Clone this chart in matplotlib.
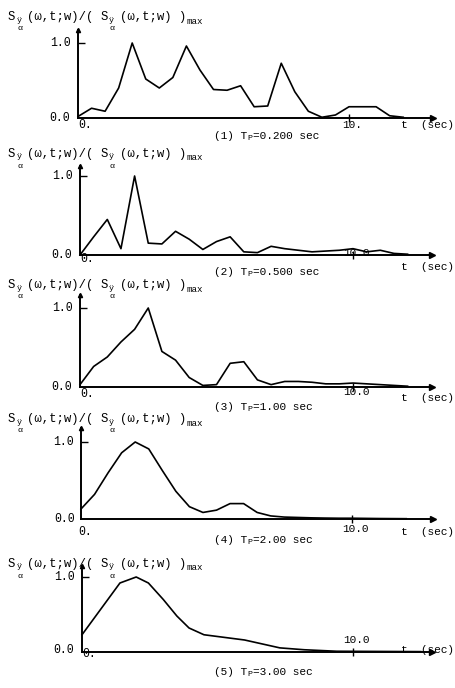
import matplotlib
matplotlib.use("Agg")
import matplotlib.pyplot as plt

plt.rcParams['font.family'] = ['Liberation Mono', 'DejaVu Sans Mono']

W, H = 455, 688

# ---------------- data ----------------
t_step = [0.0, 0.5, 1.0, 1.5, 2.0, 2.5, 3.0, 3.5, 4.0, 4.5, 5.0, 5.5, 6.0,
          6.5, 7.0, 7.5, 8.0, 8.5, 9.0, 9.5, 10.0, 10.5, 11.0, 11.5, 12.0]

s1 = [0.02, 0.13, 0.09, 0.40, 1.00, 0.52, 0.40, 0.54, 0.96, 0.64, 0.38, 0.37, 0.43,
      0.15, 0.16, 0.73, 0.35, 0.09, 0.01, 0.04, 0.15, 0.15, 0.15, 0.03, 0.01]
s2 = [0.00, 0.23, 0.45, 0.08, 1.00, 0.15, 0.14, 0.30, 0.20, 0.07, 0.17, 0.23, 0.04,
      0.03, 0.11, 0.08, 0.06, 0.04, 0.05, 0.06, 0.08, 0.04, 0.06, 0.02, 0.01]
s3 = [0.03, 0.26, 0.38, 0.57, 0.73, 1.00, 0.45, 0.34, 0.12, 0.02, 0.03, 0.30, 0.32,
      0.09, 0.03, 0.07, 0.07, 0.06, 0.04, 0.04, 0.05, 0.04, 0.03, 0.02, 0.01]
s4 = [0.13, 0.32, 0.60, 0.86, 1.00, 0.91, 0.63, 0.36, 0.16, 0.085, 0.115, 0.20, 0.20,
      0.085, 0.04, 0.025, 0.02, 0.015, 0.012, 0.01, 0.01, 0.008, 0.006, 0.005, 0.004]
t5 = [0.0, 1.4, 2.0, 2.45, 3.0, 3.5, 3.95, 4.5, 6.0, 7.3, 8.2, 9.4, 12.5]
s5 = [0.23, 0.92, 1.00, 0.92, 0.70, 0.48, 0.32, 0.23, 0.16, 0.055, 0.03, 0.01, 0.005]

series_t = [t_step, t_step, t_step, t_step, t5]
series_v = [s1, s2, s3, s4, s5]
cap_num = ["(1)", "(2)", "(3)", "(4)", "(5)"]
cap_val = ["=0.200 sec", "=0.500 sec", "=1.00 sec", "=2.00 sec", "=3.00 sec"]
x10_labels = ["10.", "10.0", "10.0", "10.0", "10.0"]

# ---------------- layout (pixels) ----------------
# origin x, x at t=10, baseline y, y at 1.0, y of arrow top, x of arrow end
layout = [
    (78, 349, 118, 43, 30, 433),
    (80, 353, 255, 176, 166, 432),
    (80, 353, 387, 308, 295, 432),
    (81, 352, 519, 442, 428, 433),
    (82, 353, 652, 577, 566, 432),
]
ylab_y = [17, 154, 285, 419, 564]
x10_dy = [7, -2, 5, 10, -12]
zero_dy = [7, 4, 7, 13, 2]
tsec_y = [125, 267, 398, 532, 650]
cap_y = [136, 272, 407, 540, 672]

fig = plt.figure(figsize=(W / 100, H / 100), dpi=100)
fig.patch.set_facecolor('white')


def ptext(x, y, s, fs, **kw):
    fig.text(x / W, 1 - y / H, s, fontsize=fs, va='center', ha='left', **kw)


def cw(fs):
    return 0.6 * fs * 100 / 72.0


def ylabel(y):
    fm, fsub = 8.8, 6.0
    x = 8
    ptext(x, y, "S", fm)
    x += cw(fm) + 1
    ptext(x, y + 3, "\u00ff", fsub)
    ptext(x + 1, y + 12, "\u03b1", fsub)
    x += cw(fsub) + 6
    s = "(\u03c9,t;w)/("
    ptext(x, y, s, fm)
    x += cw(fm) * (len(s) + 1)
    ptext(x, y, "S", fm)
    x += cw(fm) + 1
    ptext(x, y + 3, "\u00ff", fsub)
    ptext(x + 1, y + 12, "\u03b1", fsub)
    x += cw(fsub) + 6
    s = "(\u03c9,t;w) )"
    ptext(x, y, s, fm)
    x += cw(fm) * len(s) + 1
    ptext(x, y + 4, "max", 6.6)


def caption(y, num, val):
    fs, fsub = 8, 6
    x = 214
    s = num + " T"
    ptext(x, y, s, fs)
    x += cw(fs) * len(s) + 0.5
    ptext(x, y + 3, "P", fsub)
    x += cw(fsub) + 0.5
    ptext(x, y, val, fs)


for i in range(5):
    x0, x10, base, y1, top, xend = layout[i]
    pxs = (x10 - x0) / 10.0
    pyu = base - y1
    xmax = (xend - x0) / pxs
    ymax = (base - top) / pyu
    ax = fig.add_axes([x0 / W, 1 - base / H, (xend - x0) / W, (base - top) / H])
    ax.set_xlim(0, xmax)
    ax.set_ylim(0, ymax)
    ax.patch.set_alpha(0)
    for s in ['top', 'right']:
        ax.spines[s].set_visible(False)
    for s in ['left', 'bottom']:
        ax.spines[s].set_linewidth(1.4)
    ax.plot(1, 0, '>k', ms=5, transform=ax.get_yaxis_transform(), clip_on=False)
    ax.plot(0, 1, '^k', ms=3, transform=ax.get_xaxis_transform(), clip_on=False)
    ax.set_xticks([10])
    ax.set_xticklabels([])
    ax.set_yticks([1.0])
    ax.set_yticklabels([])
    ax.tick_params(axis='x', direction='inout', length=6, width=1.0)
    ax.tick_params(axis='y', direction='in', length=5, width=1.0)

    ax.plot(series_t[i], series_v[i], color='black', lw=1.2, clip_on=False)

    # tick labels
    ax.annotate("1.0", xy=(0, 1.0), xytext=(-7, 0), textcoords='offset pixels',
                ha='right', va='center', fontsize=8.3)
    ax.annotate("0.0", xy=(0, 0), xytext=(-8 if i != 3 else -6, 0 if i != 4 else 2),
                textcoords='offset pixels', ha='right', va='center', fontsize=8.3)
    ax.annotate("0.", xy=(0, 0), xytext=(-3 if i == 3 else 0, -zero_dy[i]),
                textcoords='offset pixels', ha='left', va='center', fontsize=8.3)
    ax.annotate(x10_labels[i], xy=(10, 0), xytext=(3, -x10_dy[i]), textcoords='offset pixels',
                ha='center', va='center', fontsize=8)

    fig.text(454 / W, 1 - tsec_y[i] / H, "t  (sec)", ha='right', va='center', fontsize=8)
    caption(cap_y[i], cap_num[i], cap_val[i])
    ylabel(ylab_y[i])

fig.savefig("out.png", dpi=100, facecolor='white')
